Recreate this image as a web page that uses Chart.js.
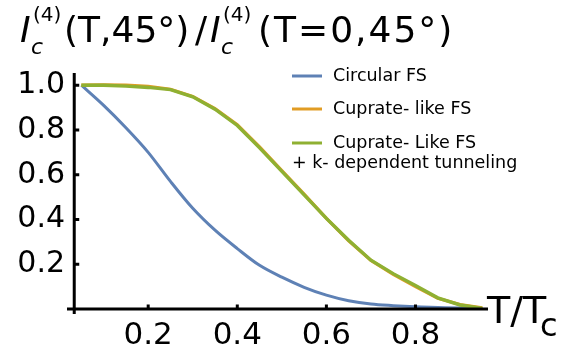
<!DOCTYPE html>
<html>
<head>
<meta charset="utf-8">
<script src="https://cdn.jsdelivr.net/npm/chart.js@4/dist/chart.umd.min.js"></script>
<style>
  html, body { margin: 0; padding: 0; background: #fff; }
  #wrap { width: 580px; height: 356px; }
</style>
</head>
<body>
<div id="wrap"><canvas id="icChart" width="580" height="356"></canvas></div>
<script>
// reduced temperature T/Tc
const temps = [0.05, 0.10, 0.15, 0.20, 0.25, 0.30, 0.35, 0.40, 0.45, 0.50,
               0.55, 0.60, 0.65, 0.70, 0.75, 0.80, 0.85, 0.90, 0.95];
// Ic(4)(T,45°) / Ic(4)(T=0,45°)
const circularFS = [1.0, 0.91, 0.81, 0.70, 0.57, 0.45, 0.352, 0.27, 0.195, 0.142,
                    0.097, 0.062, 0.037, 0.022, 0.015, 0.010, 0.007, 0.004, 0.002];
const cuprateFS  = [1.0, 1.002, 1.0, 0.995, 0.982, 0.95, 0.895, 0.823, 0.724, 0.618,
                    0.513, 0.405, 0.305, 0.217, 0.155, 0.100, 0.048, 0.020, 0.005];
const cuprateKFS = [1.0, 1.0, 0.996, 0.99, 0.98, 0.948, 0.893, 0.82, 0.72, 0.615,
                    0.51, 0.405, 0.307, 0.218, 0.158, 0.105, 0.05, 0.018, 0.003];
const seriesLabels = ['Circular FS', 'Cuprate- like FS', 'Cuprate- Like FS'];
const legendExtra = '+ k- dependent tunneling';
const xTicks = [0.2, 0.4, 0.6, 0.8];
const yTicks = [0.2, 0.4, 0.6, 0.8, 1.0];
const colors = ['#5E81B5', '#E19C24', '#8FB032'];

const FONT = '"DejaVu Sans", "Liberation Sans", Arial, sans-serif';
const yAxisAtT = 0.034; // where the vertical axis crosses the T axis

const toPoints = vals => temps.map((t, i) => ({ x: t, y: vals[i] }));

// Mathematica-style crossing axes with inward ticks
const axesPlugin = {
    id: 'axesPlugin',
    afterDatasetsDraw(chart) {
        const { ctx, chartArea, scales: { x, y } } = chart;
        const y0 = y.getPixelForValue(0);
        const xv = x.getPixelForValue(yAxisAtT);
        ctx.save();
        ctx.strokeStyle = '#000';
        ctx.lineWidth = 3;
        ctx.beginPath();
        ctx.moveTo(chartArea.left - 1, y0);
        ctx.lineTo(chartArea.right - 1, y0);
        ctx.moveTo(xv, chartArea.top - 1);
        ctx.lineTo(xv, y0 + 5);
        ctx.stroke();
        ctx.beginPath();
        xTicks.forEach(v => {
            const px = x.getPixelForValue(v);
            ctx.moveTo(px, y0);
            ctx.lineTo(px, y0 - 4.5);
        });
        yTicks.forEach(v => {
            const py = y.getPixelForValue(v);
            ctx.moveTo(xv, py);
            ctx.lineTo(xv + 5, py);
        });
        ctx.stroke();
        ctx.restore();
    },
    afterDraw(chart) {
        const { ctx } = chart;
        ctx.save();
        ctx.fillStyle = '#000';
        ctx.textBaseline = 'alphabetic';
        ctx.textAlign = 'left';

        // y-axis label along the top
        const icBlock = x0 => {
            ctx.font = 'italic 36px ' + FONT;
            ctx.fillText('I', x0, 42);
            ctx.font = '20px ' + FONT;
            ctx.fillText('(4)', x0 + 13, 21);
            ctx.font = 'italic 22px ' + FONT;
            ctx.fillText('c', x0 + 11, 54);
        };
        icBlock(20);
        ctx.font = '36px ' + FONT;
        ctx.fillText('(T,45°)', 64, 42);
        ctx.fillText('/', 195, 42);
        icBlock(210);
        ctx.font = '36px ' + FONT;
        try { ctx.letterSpacing = '2px'; } catch (e) {}
        ctx.fillText('(T=0,45°)', 258, 42);
        try { ctx.letterSpacing = '0px'; } catch (e) {}

        // x-axis label at the end of the axis
        ctx.font = '38px ' + FONT;
        ctx.fillText('T/T', 487, 323);
        ctx.font = '32px ' + FONT;
        ctx.fillText('c', 540, 336);

        // legend
        const rows = [76, 109, 143];
        ctx.font = '17.5px ' + FONT;
        ctx.textBaseline = 'middle';
        chart.data.datasets.forEach((ds, i) => {
            ctx.strokeStyle = ds.borderColor;
            ctx.lineWidth = 3;
            ctx.beginPath();
            ctx.moveTo(292, rows[i]);
            ctx.lineTo(322, rows[i]);
            ctx.stroke();
            ctx.fillText(ds.label, 333, rows[i]);
        });
        ctx.fillText(legendExtra, 292, 163);
        ctx.restore();
    }
};

const ctx = document.getElementById('icChart').getContext('2d');
const icChart = new Chart(ctx, {
    type: 'line',
    data: {
        datasets: [
            {
                label: seriesLabels[0],
                data: toPoints(circularFS),
                borderColor: colors[0],
                borderWidth: 3,
                cubicInterpolationMode: 'monotone',
                order: 2
            },
            {
                label: seriesLabels[1],
                data: toPoints(cuprateFS),
                borderColor: colors[1],
                borderWidth: 3.2,
                tension: 0,
                order: 1
            },
            {
                label: seriesLabels[2],
                data: toPoints(cuprateKFS),
                borderColor: colors[2],
                borderWidth: 3.4,
                tension: 0,
                order: 0
            }
        ]
    },
    options: {
        responsive: false,
        animation: false,
        layout: { padding: { top: 74, right: 91, left: 0, bottom: 0 } },
        elements: { point: { radius: 0 } },
        plugins: {
            legend: { display: false },
            tooltip: { enabled: false }
        },
        scales: {
            x: {
                type: 'linear',
                min: 0.02,
                max: 0.965,
                grid: { display: false, drawTicks: false },
                border: { display: false },
                afterBuildTicks: s => { s.ticks = xTicks.map(v => ({ value: v })); },
                afterFit: s => { s.height = 47; },
                ticks: {
                    color: '#000',
                    font: { family: FONT, size: 31 },
                    padding: 8,
                    maxRotation: 0,
                    autoSkip: false,
                    callback: v => v.toFixed(1)
                }
            },
            y: {
                min: 0,
                max: 1.05,
                grid: { display: false, drawTicks: false },
                border: { display: false },
                afterBuildTicks: s => { s.ticks = yTicks.map(v => ({ value: v })); },
                afterFit: s => { s.width = 68; },
                ticks: {
                    color: '#000',
                    font: { family: FONT, size: 30 },
                    padding: 3,
                    autoSkip: false,
                    callback: v => v.toFixed(1)
                }
            }
        }
    },
    plugins: [axesPlugin]
});
</script>
</body>
</html>
